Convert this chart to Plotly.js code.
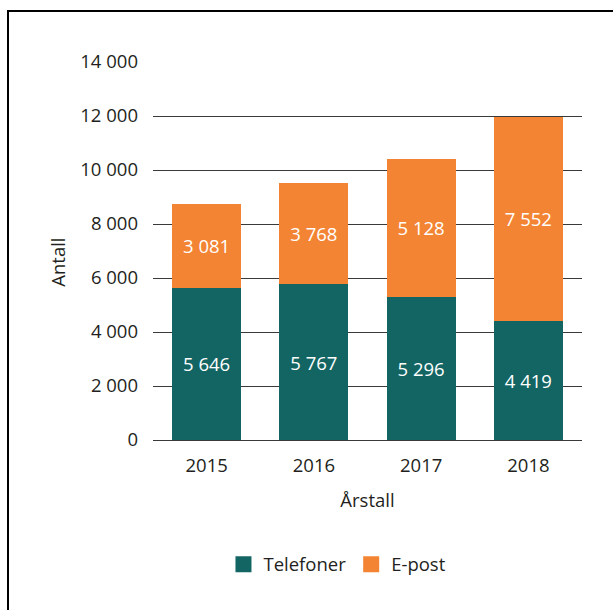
<!DOCTYPE html>
<html>
<head>
<meta charset="utf-8">
<script src="https://cdn.plot.ly/plotly-3.0.1.min.js"></script>
<style>
html,body{margin:0;padding:0;background:#fff;}
#wrap{position:relative;width:613px;height:610px;overflow:hidden;}
#chart{width:613px;height:610px;}
#frame{position:absolute;left:7px;top:10px;width:700px;height:700px;border-left:2.5px solid #000;border-top:2.5px solid #000;pointer-events:none;}
</style>
</head>
<body>
<div id="wrap"><div id="chart"></div><div id="frame"></div></div>
<script>
const years = ['2015', '2016', '2017', '2018'];
const telefoner = [5646, 5767, 5296, 4419];
const epost = [3081, 3768, 5128, 7552];
const tickVals = [0, 2000, 4000, 6000, 8000, 10000, 12000, 14000];
const colTel = '#136563';
const colEpost = '#F38433';

function fmt(v){ return String(v).replace(/\B(?=(\d{3})+(?!\d))/g, ' '); }

const font = "'Open Sans', 'Noto Sans', sans-serif";
const traces = [
  {type:'bar', name:'Telefoner', x:years, y:telefoner, marker:{color:colTel},
   text:telefoner.map(fmt), textposition:'inside', insidetextanchor:'middle',
   textfont:{color:'#ffffff', size:18.5, family:font}, hoverinfo:'x+y', showlegend:false},
  {type:'bar', name:'E-post', x:years, y:epost, marker:{color:colEpost},
   text:epost.map(fmt), textposition:'inside', insidetextanchor:'middle',
   textfont:{color:'#ffffff', size:18.5, family:font}, hoverinfo:'x+y', showlegend:false},
  {type:'scatter', mode:'markers', name:'Telefoner', x:[null], y:[null],
   marker:{symbol:'square', size:16, color:colTel}, showlegend:true, hoverinfo:'skip'},
  {type:'scatter', mode:'markers', name:'E-post', x:[null], y:[null],
   marker:{symbol:'square', size:16, color:colEpost}, showlegend:true, hoverinfo:'skip'}
];
const layout = {
  width:613, height:610, barmode:'stack', bargap:0.355,
  margin:{l:153, r:31, t:62, b:170},
  paper_bgcolor:'#ffffff', plot_bgcolor:'#ffffff',
  font:{family:font, size:18.5, color:'#231f20'},
  separators:', ',
  xaxis:{type:'category', showgrid:false, zeroline:false, showline:false,
    ticks:'', ticklabelstandoff:12, tickfont:{size:18.5}, title:{text:'Årstall', font:{size:18.5}, standoff:18}},
  yaxis:{range:[0,14000], tickvals:tickVals, ticktext:tickVals.map(fmt),
    showgrid:true, gridcolor:'#3a3a3a', gridwidth:1, zeroline:true, zerolinecolor:'#3a3a3a', zerolinewidth:1,
    ticks:'', ticklabelstandoff:14, tickfont:{size:18.5}},
  annotations:[{text:'Antall', xref:'paper', yref:'paper', x:-0.222, y:0.471, xanchor:'center', yanchor:'middle',
    textangle:-90, showarrow:false, font:{size:18.5}}],
  showlegend:true,
  legend:{orientation:'h', x:0.43, xanchor:'center', y:-0.33, yanchor:'middle', font:{size:18.5}, itemwidth:20, traceorder:'normal'}
};
Plotly.newPlot('chart', traces, layout, {displayModeBar:false, staticPlot:true});
</script>
</body>
</html>
